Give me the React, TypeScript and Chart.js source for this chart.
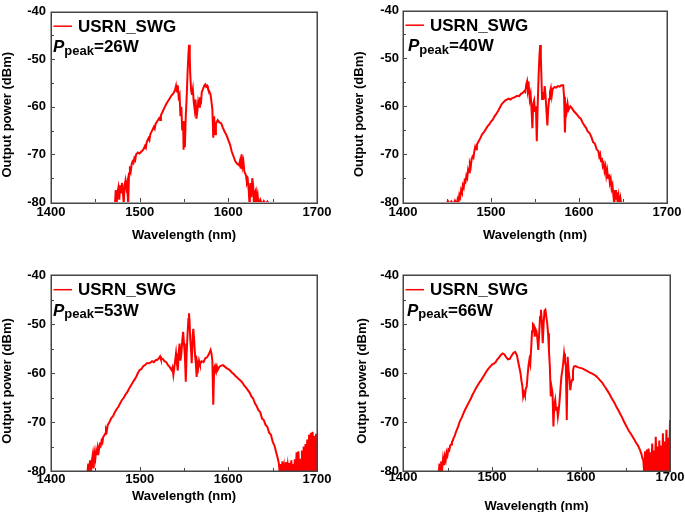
import React, { useEffect, useRef } from 'react';
import { Chart, registerables } from 'chart.js';

Chart.register(...registerables);

// ---------- data ----------
const xTickValues = [1400, 1500, 1600, 1700];
const yTickValues = [-80, -70, -60, -50, -40];
const seriesName = 'USRN_SWG';
const peakPowers = ['26W', '40W', '53W', '66W'];
const xTitle = 'Wavelength (nm)';
const yTitle = 'Output power (dBm)';

// [wavelength nm, power dBm]
const spectrum26W: [number, number][] = [
  [1472, -81], [1473, -77.5], [1474, -80.5], [1475, -78], [1476, -77], [1477, -79.5], [1478, -76.5], [1479, -78],
  [1480, -76], [1481, -77.5], [1482, -80.5], [1483, -76.5], [1484, -75.5], [1485, -77], [1486, -76], [1487, -81],
  [1488, -74], [1489, -72.5], [1490, -73.5], [1491, -72], [1492, -71.5], [1493, -71.8], [1494, -70.8], [1495, -71.2], [1496, -70], [1498, -69.6],
  [1500, -69.8], [1502, -69.4], [1504, -69.0], [1506, -68.2], [1507, -68.6], [1508, -67.4], [1510, -66.6], [1511, -67], [1512, -65.8], [1514, -65],
  [1516, -64.2], [1517, -64.6], [1518, -63.6], [1520, -63], [1522, -62.4], [1523, -62.8], [1524, -61.8], [1526, -61], [1528, -60.2], [1530, -59.4],
  [1532, -58.8], [1534, -58.2], [1536, -57.6], [1538, -57.2], [1540, -56.4], [1541, -55.6], [1542, -57], [1543, -55.5],
  [1544, -58], [1545, -57.5], [1546, -62], [1547, -60], [1548, -65], [1549, -63], [1549.5, -69], [1550, -66],
  [1551, -68.5], [1552, -62], [1553, -58], [1554, -53], [1555, -49], [1555.7, -47], [1556.5, -49.5], [1557, -53],
  [1558, -56.5], [1559, -57.5], [1560, -56.3], [1561, -59], [1562, -60.5], [1563, -58.5], [1564, -62.5], [1565, -61],
  [1566, -59], [1567, -60], [1568, -58], [1569, -59.5], [1570, -57], [1571, -56.5], [1572, -56], [1573, -55.5],
  [1574, -55.3], [1575, -55.8], [1576, -55.6], [1577, -56.2], [1578, -56.5], [1580, -57.5], [1581, -59], [1582, -60.5],
  [1583, -66.5], [1584, -62], [1585, -65.8], [1586, -63.5], [1587, -63.2], [1588, -62.8], [1590, -63.3], [1592, -63.5],
  [1594, -64.5], [1596, -65.3], [1598, -66], [1600, -67], [1602, -68], [1604, -69.5], [1606, -70.5], [1608, -71.5],
  [1610, -72], [1612, -72.3], [1613, -71.5], [1614, -73], [1615, -70], [1616, -72.5], [1617, -71.5], [1618, -73.5],
  [1620, -74.5], [1621, -76], [1622, -75.5], [1623, -77.5], [1624, -81], [1625, -76], [1626, -79], [1627, -75],
  [1628, -76.5], [1629, -81], [1630, -78], [1631, -77.5], [1632, -79.5], [1633, -78.5], [1634, -80.5], [1636, -79.5],
  [1638, -80.5], [1640, -79.8], [1642, -80.5], [1644, -79.9], [1646, -80.5],
];

const spectrum40W: [number, number][] = [
  [1449, -80.5], [1451, -79.8], [1453, -80.5], [1455, -79.9], [1457, -80.5], [1459, -79.7], [1461, -80.5], [1462, -79.5],
  [1463, -80.2], [1464, -78.5], [1465, -79], [1466, -77.5], [1467, -78], [1468, -76.5], [1469, -77], [1470, -75.5],
  [1471, -75.8], [1472, -74.5], [1473, -75], [1474, -73.2], [1475, -73.8], [1476, -72], [1477, -72.6], [1478, -71],
  [1479, -70.5], [1480, -70.8], [1481, -69.5], [1482, -68.5], [1483, -69], [1484, -68], [1486, -67.3], [1488, -66.6],
  [1490, -65.8], [1492, -65.4], [1494, -64.8], [1496, -64.2], [1498, -63.8], [1500, -63.2], [1502, -62.8], [1504, -62.1],
  [1506, -61.6], [1508, -61], [1510, -60.3], [1512, -59.6], [1514, -59.2], [1516, -58.8], [1518, -58.6], [1520, -58.4],
  [1522, -58.6], [1524, -58.3], [1526, -58.2], [1528, -58.0], [1530, -57.8], [1532, -57.9], [1534, -57.4], [1536, -57.2],
  [1538, -56.8], [1539, -57], [1540, -55.5], [1541, -54.8], [1542, -56.8], [1543, -56], [1544, -58.5], [1545, -57.5],
  [1546, -60.5], [1547, -64.6], [1548, -59.5], [1549, -58.8], [1550, -61], [1551, -60], [1552, -67.3], [1553, -60],
  [1554, -54], [1555, -49.5], [1555.8, -47.2], [1556.6, -49.5], [1557.3, -54], [1558, -58.5], [1559, -57], [1560, -58.5],
  [1561, -55.8], [1562, -58], [1563, -61], [1564, -64], [1565, -60.5], [1566, -58.5], [1567, -57], [1568, -56.2],
  [1569, -57.8], [1570, -56.4], [1572, -56], [1574, -56.1], [1576, -55.8], [1578, -55.9], [1580, -55.6], [1582, -55.6],
  [1583, -58], [1584, -65.5], [1585, -60], [1586, -61], [1587, -59.5], [1588, -60.8], [1590, -60], [1592, -60.4],
  [1594, -61], [1596, -61.4], [1598, -61.8], [1600, -62.3], [1602, -62.6], [1604, -63.4], [1606, -64], [1608, -64.5],
  [1610, -65.3], [1612, -65.6], [1614, -66.4], [1616, -67.5], [1618, -67.8], [1620, -69], [1622, -69.4], [1623, -70.5],
  [1624, -70], [1625, -71.5], [1626, -70.8], [1627, -72.5], [1628, -72], [1629, -73.5], [1630, -72.6], [1631, -74.5],
  [1632, -73.4], [1633, -75], [1634, -74.2], [1635, -76], [1636, -75.2], [1637, -77.2], [1638, -76.5], [1639, -78.5],
  [1640, -80.5], [1641, -77.5], [1642, -79.5], [1643, -78], [1644, -80.5], [1645, -78.8], [1646, -80.3], [1647, -79.2],
  [1648, -80.5], [1650, -80.2],
];

const spectrum53W: [number, number][] = [
  [1441, -80.5], [1442, -78.5], [1443, -80.5], [1444, -77.8], [1445, -80.5], [1446, -78], [1447, -76.8], [1448, -79.5],
  [1449, -76.4], [1450, -77.5], [1451, -75.8], [1452, -76.6], [1453, -75.2], [1454, -75.8], [1455, -74.6], [1456, -74.9],
  [1457, -73.8], [1458, -74.2], [1459, -73], [1460, -72.8], [1461, -72.4], [1462, -71.4], [1463, -71.8], [1464, -70.6],
  [1466, -70], [1468, -69.2], [1470, -68.8], [1472, -68], [1474, -67.4], [1476, -66.9], [1478, -66.2], [1480, -65.5],
  [1482, -65.1], [1484, -64.4], [1486, -63.9], [1488, -63.2], [1490, -62.6], [1492, -62], [1494, -61.4], [1496, -60.8],
  [1498, -60], [1500, -59.4], [1502, -59.2], [1504, -58.6], [1506, -58.4], [1508, -58], [1510, -58], [1512, -57.9],
  [1514, -57.6], [1516, -57.8], [1518, -57.4], [1520, -57.3], [1522, -56.9], [1523, -56.6], [1524, -57.2], [1526, -57.1],
  [1528, -57.6], [1530, -57.8], [1532, -58.4], [1534, -58.8], [1536, -59.4], [1537, -58.9], [1538, -60.4], [1539, -59],
  [1540, -57.5], [1541, -56], [1542, -58], [1543, -59.5], [1544, -56], [1545, -54], [1546, -57.5], [1547, -56],
  [1548, -53.5], [1549, -51.6], [1550, -54], [1551, -56.5], [1552, -61.8], [1553, -56], [1554, -52], [1555, -49],
  [1555.6, -47.8], [1556.3, -49.5], [1557, -53], [1558, -55.5], [1558.7, -58], [1559.8, -52.5], [1560.5, -51], [1561.5, -53.5],
  [1562.5, -56.5], [1563.3, -58], [1564.3, -60.8], [1565, -58], [1566, -59], [1567, -57.5], [1568, -58.2], [1570, -57.6],
  [1572, -57.8], [1574, -57], [1576, -56.8], [1578, -56.2], [1580, -55.3], [1581, -56], [1582, -57.5], [1583, -66.5],
  [1584, -59], [1585, -58.5], [1586, -59.2], [1587, -58.6], [1588, -59.4], [1590, -58.7], [1592, -58.5], [1594, -58.4],
  [1596, -58.7], [1598, -59], [1600, -59.2], [1602, -59.5], [1604, -59.9], [1606, -60.2], [1608, -60.6], [1610, -60.9],
  [1612, -61.3], [1614, -61.6], [1616, -62], [1618, -62.6], [1620, -63], [1622, -63.5], [1624, -64], [1626, -64.8],
  [1628, -65.2], [1630, -66.2], [1632, -66.8], [1634, -67.6], [1636, -68], [1638, -69.3], [1640, -69.6], [1642, -70.6],
  [1644, -71], [1646, -72.2], [1648, -72.6], [1650, -74], [1652, -74.8], [1654, -76.2], [1656, -77.6], [1657, -78.5],
  [1658, -80.5], [1659, -78.6], [1660, -80.5], [1661, -78], [1662, -80.5], [1663, -79], [1664, -80.5], [1665, -78.2],
  [1666, -80.5], [1667, -78.8], [1668, -80.5], [1669, -78.4], [1670, -80.5], [1671, -77.8], [1672, -80.5], [1673, -78.6],
  [1674, -80.5], [1675, -77.6], [1676, -80.5], [1677, -76.2], [1678, -80.5], [1679, -76], [1680, -80.5], [1681, -77.5],
  [1682, -80.5], [1683, -75.8], [1684, -80.5], [1685, -75], [1686, -80.5], [1687, -74.5], [1688, -80.5], [1689, -73.6],
  [1690, -80.5], [1691, -72.6], [1692, -80.5], [1693, -72.2], [1694, -80.5], [1695, -72], [1696, -80.5], [1697, -72.8],
  [1698, -80.5], [1699, -72.4], [1700, -80.5],
];

const spectrum66W: [number, number][] = [
  [1440, -80.5], [1441, -78.5], [1442, -80.5], [1443, -78], [1444, -79.5], [1445, -77.5], [1446, -78.8], [1447, -77],
  [1448, -77.8], [1449, -76.2], [1450, -76.8], [1451, -75.6], [1452, -75.8], [1453, -74.8], [1454, -74.6], [1455, -74],
  [1456, -73.8], [1457, -73.2], [1458, -72.9], [1459, -72.3], [1460, -71.8], [1462, -70.9], [1464, -69.8], [1466, -69.1],
  [1468, -68.2], [1470, -67.4], [1472, -66.7], [1474, -66], [1476, -65.3], [1478, -64.5], [1480, -63.8], [1482, -63.1],
  [1484, -62.5], [1486, -61.9], [1488, -61.4], [1490, -60.8], [1492, -60.2], [1494, -59.6], [1496, -59.1], [1498, -58.7],
  [1500, -58.3], [1502, -58.1], [1504, -57.8], [1506, -57.2], [1508, -56.8], [1510, -56.3], [1512, -56], [1514, -56.2],
  [1516, -56.8], [1518, -57.2], [1520, -57.1], [1522, -56.5], [1524, -55.9], [1526, -55.7], [1528, -56.4], [1530, -58.2],
  [1532, -60], [1533, -61.5], [1534, -62.5], [1535, -64.8], [1536, -64], [1537, -64.6], [1538, -63.2], [1539, -62.8],
  [1540, -60.5], [1541, -58.5], [1542, -57.3], [1543, -58.2], [1544, -55], [1545, -51.5], [1546, -50], [1547, -50.2],
  [1548, -52.6], [1549, -51.1], [1550, -51.5], [1551, -53], [1552, -55.3], [1553, -52], [1554, -48.5], [1555, -47.1],
  [1556, -49.5], [1557, -53.9], [1558, -50], [1559, -47.3], [1560, -47.1], [1561, -48.5], [1562, -49.8], [1563, -51.9],
  [1564, -55.5], [1565, -58.7], [1566, -64.8], [1567, -63], [1568, -64.1], [1569, -70.9], [1570, -66.5], [1571, -65.5],
  [1572, -67.5], [1573, -66.9], [1574, -68.9], [1575, -67.5], [1576, -65.5], [1577, -63], [1578, -60.7], [1579, -59.5],
  [1580, -58], [1581, -56], [1582, -57.5], [1583, -58.7], [1584, -69.6], [1585, -56.7], [1586, -59.4], [1587, -61],
  [1588, -63.5], [1589, -62], [1590, -61.4], [1591, -59.5], [1592, -58.7], [1594, -58.6], [1596, -58.8], [1598, -58.9],
  [1600, -59], [1602, -59.1], [1604, -59.3], [1606, -59.5], [1608, -59.7], [1610, -59.9], [1612, -60.1], [1614, -60.3],
  [1616, -60.5], [1618, -60.8], [1620, -61.2], [1622, -61.6], [1624, -62], [1626, -62.6], [1628, -63.1], [1630, -63.7],
  [1632, -64.3], [1634, -65], [1636, -65.6], [1638, -66.2], [1640, -67], [1642, -67.6], [1644, -68.3], [1646, -69],
  [1648, -69.8], [1650, -70.5], [1652, -71.2], [1654, -71.9], [1656, -72.4], [1658, -73], [1660, -73.6], [1662, -74.3],
  [1664, -74.8], [1666, -75.6], [1668, -76.6], [1669, -77.4], [1670, -77.8], [1671, -80.5], [1672, -76], [1673, -80.5],
  [1674, -75.6], [1675, -80.5], [1676, -75.4], [1677, -80.5], [1678, -76.2], [1679, -80.5], [1680, -74.4], [1681, -80.5],
  [1682, -75.8], [1683, -80.5], [1684, -73], [1685, -80.5], [1686, -75], [1687, -80.5], [1688, -73.8], [1689, -80.5],
  [1690, -74.8], [1691, -80.5], [1692, -72.3], [1693, -80.5], [1694, -74], [1695, -80.5], [1696, -71.6], [1697, -80.5],
  [1698, -73.2], [1699, -80.5], [1700, -69.6],
];

// ---------- layout / style ----------
const FONT = '"Liberation Sans", Arial, Helvetica, sans-serif';
const RED = '#ff0000';
const FRAME = '#454545';

type PanelSpec = {
  canvas: { x: number; y: number; w: number; h: number };
  plot: { l: number; t: number; r: number; b: number };
  xTickLabelY: number;
  xTitleY: number;
  yTickPad: number;
  yTitleX: number;
  legendDx: number;
  data: [number, number][];
  power: string;
};

const PANELS: PanelSpec[] = [
  { canvas: { x: 0, y: 0, w: 342, h: 256 }, plot: { l: 51, t: 6, r: 317, b: 202 }, xTickLabelY: 212, xTitleY: 235, yTickPad: 5, yTitleX: 7, legendDx: 2, data: spectrum26W, power: peakPowers[0] },
  { canvas: { x: 342, y: 0, w: 343, h: 256 }, plot: { l: 403, t: 6, r: 670, b: 202 }, xTickLabelY: 212, xTitleY: 235, yTickPad: 4, yTitleX: 359, legendDx: 5, data: spectrum40W, power: peakPowers[1] },
  { canvas: { x: 0, y: 256, w: 342, h: 256 }, plot: { l: 51, t: 275, r: 317, b: 471 }, xTickLabelY: 479, xTitleY: 496, yTickPad: 5, yTitleX: 7, legendDx: 2, data: spectrum53W, power: peakPowers[2] },
  { canvas: { x: 342, y: 256, w: 343, h: 256 }, plot: { l: 403, t: 275, r: 670, b: 471 }, xTickLabelY: 477, xTitleY: 506, yTickPad: 4, yTitleX: 362, legendDx: 4, data: spectrum66W, power: peakPowers[3] },
];

function makeDeco(p: PanelSpec, idx: number) {
  return {
    id: 'deco' + idx,
    afterDraw(chart: any) {
      const { ctx, chartArea: a, scales } = chart;
      const xs = scales.x;
      const ys = scales.y;
      ctx.save();
      // frame
      ctx.strokeStyle = FRAME;
      ctx.lineWidth = 1.5;
      ctx.strokeRect(Math.round(a.left) + 0.25, Math.round(a.top) + 0.25, Math.round(a.right - a.left), Math.round(a.bottom - a.top));
      // inward ticks (bottom, left), major + minor
      ctx.lineWidth = 1;
      for (let v = xs.min + 50; v < xs.max; v += 50) {
        const x = Math.round(xs.getPixelForValue(v)) + 0.5;
        const len = (v - xs.min) % 100 === 0 ? 4 : 3;
        ctx.beginPath();
        ctx.moveTo(x, a.bottom);
        ctx.lineTo(x, a.bottom - len);
        ctx.stroke();
      }
      for (let v = ys.min + 5; v < ys.max; v += 5) {
        const y = Math.round(ys.getPixelForValue(v)) + 0.5;
        const len = (v - ys.min) % 10 === 0 ? 4 : 3;
        ctx.beginPath();
        ctx.moveTo(a.left, y);
        ctx.lineTo(a.left + len, y);
        ctx.stroke();
      }
      // y title
      ctx.fillStyle = '#000';
      ctx.save();
      ctx.translate(p.yTitleX - p.canvas.x, (a.top + a.bottom) / 2 + 8);
      ctx.rotate(-Math.PI / 2);
      ctx.font = `bold 13px ${FONT}`;
      ctx.textAlign = 'center';
      ctx.textBaseline = 'middle';
      ctx.fillText(yTitle, 0, 0);
      ctx.restore();
      // legend
      const ds = chart.data.datasets[0];
      ctx.strokeStyle = ds.borderColor;
      ctx.lineWidth = 1.5;
      ctx.beginPath();
      ctx.moveTo(a.left + 2.5, a.top + 14.7);
      ctx.lineTo(a.left + 21, a.top + 14.7);
      ctx.stroke();
      ctx.font = `bold 17px ${FONT}`;
      ctx.textAlign = 'left';
      ctx.textBaseline = 'alphabetic';
      ctx.fillText(ds.label, a.left + 27, a.top + 20);
      // P_peak annotation
      const bx = a.left + p.legendDx;
      const by = a.top + 40.6;
      ctx.font = `italic bold 17px ${FONT}`;
      ctx.fillText('P', bx, by);
      let cx = bx + ctx.measureText('P').width;
      ctx.font = `bold 13px ${FONT}`;
      ctx.fillText('peak', cx, by + 2.5);
      cx += ctx.measureText('peak').width;
      ctx.font = `bold 17px ${FONT}`;
      ctx.fillText('=' + p.power, cx, by);
      ctx.restore();
    },
  };
}

function SpectrumPanel({ spec, idx }: { spec: PanelSpec; idx: number }) {
  const ref = useRef<HTMLCanvasElement | null>(null);
  useEffect(() => {
    const canvas = ref.current;
    if (!canvas) return;
    const { canvas: c, plot } = spec;
    const l = plot.l - c.x;
    const t = plot.t - c.y;
    const r = plot.r - c.x;
    const b = plot.b - c.y;
    const xAxisH = c.h - b;
    const xTickPad = spec.xTickLabelY - plot.b - 6.5;
    const xTitlePadBottom = c.y + c.h - spec.xTitleY - 6.5;
    const chart = new Chart(canvas, {
      type: 'line',
      data: {
        datasets: [
          {
            label: seriesName,
            data: spec.data.map(([x, y]) => ({ x, y })),
            borderColor: RED,
            backgroundColor: RED,
            borderWidth: 2,
            pointRadius: 0,
            tension: 0,
            fill: false,
          },
        ],
      },
      options: {
        responsive: false,
        animation: false,
        devicePixelRatio: 1,
        events: [],
        layout: { autoPadding: false, padding: { left: 0, top: t, right: c.w - r, bottom: 0 } },
        plugins: { legend: { display: false }, tooltip: { enabled: false }, title: { display: false } },
        scales: {
          x: {
            type: 'linear',
            min: xTickValues[0],
            max: xTickValues[xTickValues.length - 1],
            afterBuildTicks: (s: any) => {
              s.ticks = xTickValues.map((v) => ({ value: v }));
            },
            afterFit: (s: any) => {
              s.height = xAxisH;
            },
            grid: { display: false, drawTicks: false },
            border: { display: false },
            ticks: {
              color: '#000',
              padding: xTickPad,
              maxRotation: 0,
              autoSkip: false,
              font: { family: FONT, size: 13, weight: 'bold', lineHeight: 1 },
              callback: (v: any) => String(v),
            },
            title: {
              display: true,
              text: xTitle,
              color: '#000',
              font: { family: FONT, size: 13, weight: 'bold', lineHeight: 1 },
              padding: { top: 0, bottom: xTitlePadBottom },
            },
          },
          y: {
            type: 'linear',
            min: yTickValues[0],
            max: yTickValues[yTickValues.length - 1],
            afterBuildTicks: (s: any) => {
              s.ticks = yTickValues.map((v) => ({ value: v }));
            },
            afterFit: (s: any) => {
              s.width = l;
            },
            grid: { display: false, drawTicks: false },
            border: { display: false },
            ticks: {
              color: '#000',
              padding: spec.yTickPad,
              autoSkip: false,
              font: { family: FONT, size: 13, weight: 'bold', lineHeight: 1 },
              callback: (v: any) => String(v),
            },
            title: { display: false },
          },
        },
      } as any,
      plugins: [makeDeco(spec, idx)],
    });
    return () => chart.destroy();
  }, [spec, idx]);
  const { canvas: c } = spec;
  return (
    <canvas
      ref={ref}
      width={c.w}
      height={c.h}
      style={{ position: 'absolute', left: c.x, top: c.y, width: c.w, height: c.h, display: 'block' }}
    />
  );
}

export default function App() {
  return (
    <div style={{ position: 'absolute', left: 0, top: 0, width: 685, height: 512, background: '#fff' }}>
      {PANELS.map((p, i) => (
        <SpectrumPanel key={i} spec={p} idx={i} />
      ))}
    </div>
  );
}
